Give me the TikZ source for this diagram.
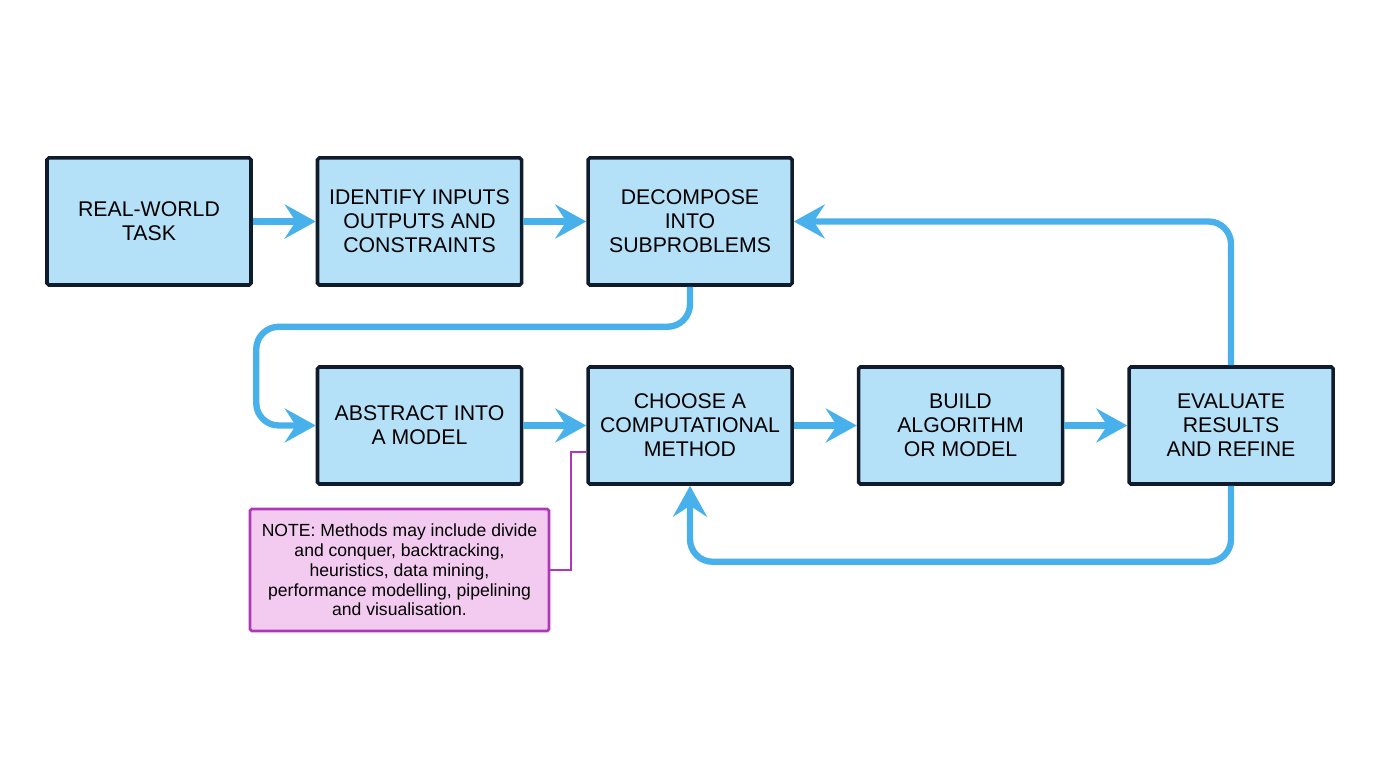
\documentclass[tikz,border=0pt]{standalone}
\usepackage{fontspec}
\setmainfont{Liberation Sans}
\usepackage{xcolor}
\usepackage{tikz}
\usetikzlibrary{arrows.meta, positioning, calc}

\definecolor{stepfill}{HTML}{B5E1F8}
\definecolor{stepline}{HTML}{101C2C}
\definecolor{flowblue}{HTML}{48B1EC}
\definecolor{notefill}{HTML}{F3CBF1}
\definecolor{noteline}{HTML}{B038B8}

\tikzset{
    stepbox/.style={draw=stepline, fill=stepfill, line width=2pt, rounded corners=1pt,
        minimum width=4.08cm, align=center, font=\fontsize{12.1}{13.6}\selectfont},
    flow/.style={draw=flowblue, line width=3.6pt, rounded corners=0.45cm,
        -{Stealth[length=0.62cm, width=0.68cm, inset=0.22cm]}},
    notebox/.style={draw=noteline, fill=notefill, line width=1.5pt, rounded corners=1pt,
        minimum width=5.98cm, minimum height=2.44cm, align=center,
        font=\fontsize{10}{11.3}\selectfont},
    notelink/.style={draw=noteline, line width=1pt}
}

\begin{document}
\begin{tikzpicture}

    \useasboundingbox (0,0) rectangle (27.52,15.36);

    % ================= Top row =================
    \node[stepbox, minimum height=2.54cm] (S1) at (2.98, 10.93) {REAL-WORLD\\TASK};
    \node[stepbox, minimum height=2.54cm] (S2) at (8.39, 10.93) {IDENTIFY INPUTS\\OUTPUTS AND\\CONSTRAINTS};
    \node[stepbox, minimum height=2.54cm] (S3) at (13.80, 10.93) {DECOMPOSE\\INTO\\SUBPROBLEMS};

    % ================= Bottom row =================
    \node[stepbox, minimum height=2.34cm] (S4) at (8.39, 6.85) {ABSTRACT INTO\\A MODEL};
    \node[stepbox, minimum height=2.34cm] (S5) at (13.80, 6.85) {CHOOSE A\\COMPUTATIONAL\\METHOD};
    \node[stepbox, minimum height=2.34cm] (S6) at (19.21, 6.85) {BUILD\\ALGORITHM\\OR MODEL};
    \node[stepbox, minimum height=2.34cm] (S7) at (24.62, 6.85) {EVALUATE\\RESULTS\\AND REFINE};

    % note
    \node[notebox] (NOTE) at (7.99, 3.96) {NOTE: Methods may include divide\\and conquer, backtracking,\\heuristics, data mining,\\performance modelling, pipelining\\and visualisation.};

    % ================= Arrows =================
    \draw[flow] (S1) -- (S2);
    \draw[flow] (S2) -- (S3);

    % wrap down to the second row
    \draw[flow] (S3.south) -- ++(0,-0.8) -| ([xshift=-1.19cm]S4.west) -- (S4.west);

    \draw[flow] (S4) -- (S5);
    \draw[flow] (S5) -- (S6);
    \draw[flow] (S6) -- (S7);

    % refine loops
    \draw[flow] (S7.north) |- (S3.east);
    \draw[flow] (S7.south) -- ++(0,-1.52) -| (S5.south);

    % note link
    \draw[notelink] (NOTE.east) -- ++(0.42,0) |- ([yshift=-0.53cm]S5.west);

\end{tikzpicture}
\end{document}
